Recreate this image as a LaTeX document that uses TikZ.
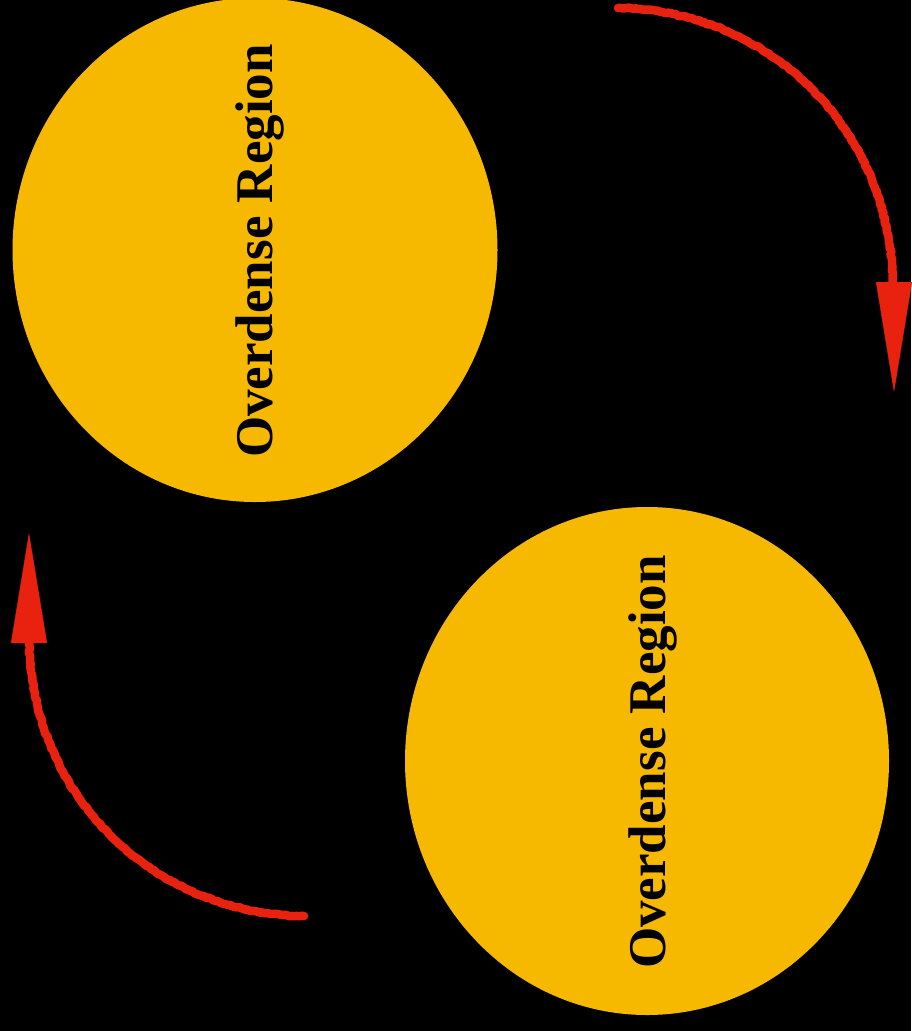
\documentclass[tikz,border=0pt]{standalone}
\usepackage{fontspec}
\setmainfont{Liberation Serif}
\usetikzlibrary{shapes.geometric,arrows.meta,decorations.pathmorphing}
\definecolor{blobyellow}{HTML}{F6B900}
\definecolor{arrowred}{HTML}{E8220E}
\pgfmathsetseed{7}
\tikzset{
  region/.style={ellipse, fill=blobyellow, draw=none, inner sep=0pt},
  lbl/.style={rotate=90, inner sep=0pt, font=\fontsize{53pt}{60pt}\selectfont\bfseries, text=black},
  flowline/.style={draw=arrowred, line width=8.5pt, line cap=round,
    decoration={random steps, segment length=2.5pt, amplitude=0.7pt}, decorate, rounded corners=0.6pt},
  flowhead/.style={draw=arrowred, line width=0.4pt, -{Triangle[length=110pt,width=36pt,fill=arrowred]}}
}
\begin{document}
\begin{tikzpicture}[x=1pt,y=-1pt]
\useasboundingbox (0,0) rectangle (911,1031);
\fill[black] (0,0) rectangle (911,1031);
% regions
\node[region, minimum width=485pt, minimum height=504pt] (r1) at (255,250) {};
\node[region, minimum width=484pt, minimum height=508pt] (r2) at (647,761) {};
\node[lbl, anchor=base west] (t1) at (272,458) {Overdense Region};
\node[lbl, anchor=base west] (t2) at (665,969) {Overdense Region};
% top-right arrow
\coordinate (a1s) at (618,8);
\coordinate (a1b) at (893,290);
\coordinate (a1h) at (894,282);
\coordinate (a1t) at (894,392);
\draw[flowline] (a1s) .. controls (770,10) and (893,130) .. (a1b);
\draw[flowhead] (a1h) -- (a1t);
% bottom-left arrow
\coordinate (a2s) at (304,916);
\coordinate (a2b) at (29,635);
\coordinate (a2h) at (29,643);
\coordinate (a2t) at (29,533);
\draw[flowline] (a2s) .. controls (152,914) and (29,794) .. (a2b);
\draw[flowhead] (a2h) -- (a2t);
\end{tikzpicture}
\end{document}
